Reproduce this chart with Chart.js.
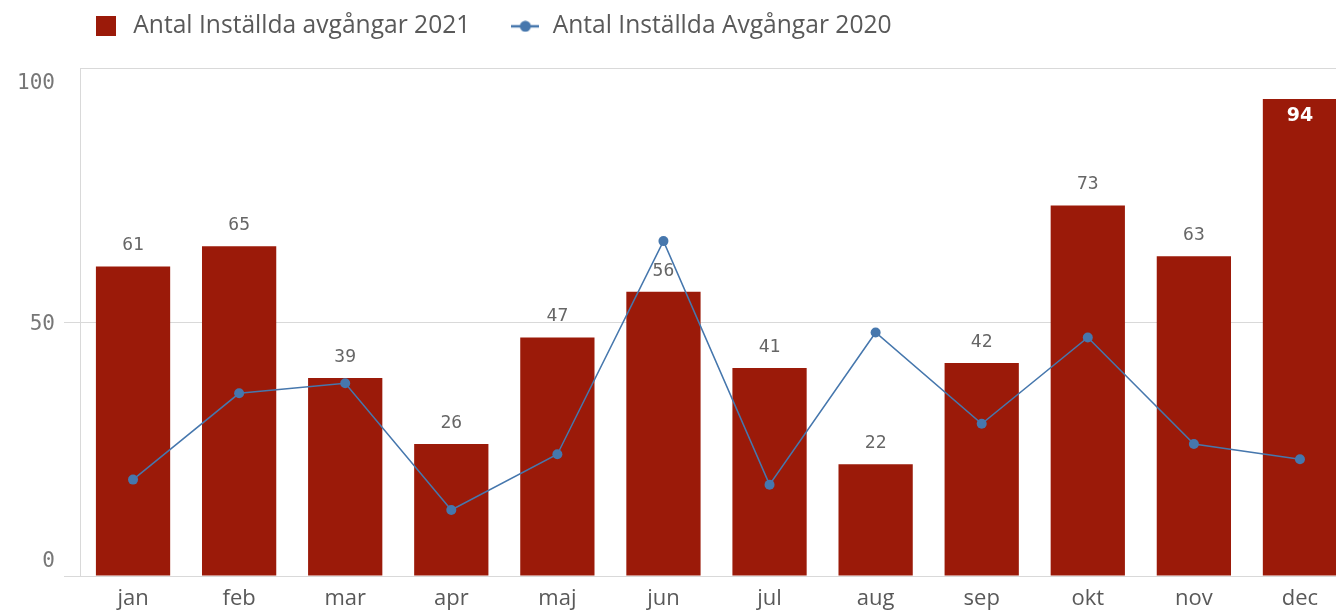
<!DOCTYPE html>
<html><head><meta charset="utf-8">
<script src="https://cdn.jsdelivr.net/npm/chart.js@4/dist/chart.umd.min.js"></script>
<style>
html,body{margin:0;padding:0;background:#fff;overflow:hidden}
#wrap{position:relative;width:1336px;height:610px;overflow:hidden;background:#fff}
#c{position:absolute;left:0;top:-26px}
</style></head><body>
<div id="wrap"><canvas id="c" width="1358" height="636"></canvas></div>
<script>
const months = ['jan','feb','mar','apr','maj','jun','jul','aug','sep','okt','nov','dec'];
const cancelled2021 = [61,65,39,26,47,56,41,22,42,73,63,94];
const cancelled2020 = [19,36,38,13,24,66,18,48,30,47,26,23];
const yTickValues = [0,50,100];
const label2021 = 'Antal Inställda avgångar 2021';
const label2020 = 'Antal Inställda Avgångar 2020';

const BAR = '#9b1a09';
const LINE = '#4677ad';

function makeBarMarker(){
  const c = document.createElement('canvas'); c.width = 20; c.height = 20;
  const x = c.getContext('2d'); x.fillStyle = BAR; x.fillRect(0,0,20,20); return c;
}
function makeLineMarker(){
  const c = document.createElement('canvas'); c.width = 28; c.height = 12;
  const x = c.getContext('2d'); x.strokeStyle = LINE; x.lineWidth = 2.5;
  x.beginPath(); x.moveTo(0,6); x.lineTo(28,6); x.stroke();
  x.fillStyle = LINE; x.beginPath(); x.arc(14,6,5.5,0,Math.PI*2); x.fill(); return c;
}
const markers = [makeBarMarker(), makeLineMarker()];

const legendSpacing = {
  id: 'legendSpacing',
  beforeLayout(chart){
    const lg = chart.legend;
    if (lg && !lg._patched){
      const fit = lg.fit;
      lg.fit = function(){ fit.call(this); this.height += 20; };
      lg._patched = true;
    }
  }
};

const yLabels = {
  id: 'yLabels',
  afterDraw(chart){
    const s = chart.scales.y, a = chart.chartArea, ctx = chart.ctx;
    ctx.save();
    ctx.font = '21px "DejaVu Sans Mono"';
    ctx.fillStyle = '#777';
    ctx.textAlign = 'right';
    ctx.textBaseline = 'middle';
    s.ticks.forEach(t => {
      let p = s.getPixelForValue(t.value);
      p = Math.min(Math.max(p, a.top + 13), a.bottom - 16);
      ctx.fillText(String(t.value), a.left - 25, p + 2);
    });
    ctx.restore();
  }
};

const barLabels = {
  id: 'barLabels',
  afterDatasetsDraw(chart){
    const meta = chart.getDatasetMeta(0), a = chart.chartArea, ctx = chart.ctx;
    const vals = chart.data.datasets[0].data;
    ctx.save();
    ctx.textAlign = 'center';
    ctx.textBaseline = 'middle';
    meta.data.forEach((bar, i) => {
      const above = bar.y - 21;
      if (above - 10 < a.top){
        ctx.font = 'bold 19px "DejaVu Sans"';
        ctx.fillStyle = '#ffffff';
        ctx.fillText(String(vals[i]), bar.x, bar.y + 17);
      } else {
        ctx.font = '18px "DejaVu Sans Mono"';
        ctx.fillStyle = '#666';
        ctx.fillText(String(vals[i]), bar.x, above);
      }
    });
    ctx.restore();
  }
};

new Chart(document.getElementById('c'), {
  data: {
    labels: months,
    datasets: [
      { type: 'bar', label: label2021, data: cancelled2021, backgroundColor: BAR,
        barPercentage: 0.7, categoryPercentage: 1.0, order: 1 },
      { type: 'line', label: label2020, data: cancelled2020, borderColor: LINE, backgroundColor: LINE,
        borderWidth: 1.5, pointRadius: 5, pointHoverRadius: 5, pointBackgroundColor: LINE,
        pointBorderWidth: 0, tension: 0, order: 0 }
    ]
  },
  options: {
    responsive: false,
    animation: false,
    devicePixelRatio: 1,
    layout: { padding: { left: 51, right: 0, top: 0, bottom: 0 } },
    plugins: {
      tooltip: { enabled: false },
      legend: {
        display: true, position: 'top', align: 'start', fullSize: true,
        labels: {
          usePointStyle: true, pointStyleWidth: 30, padding: 40,
          color: '#595959',
          font: { family: '"Open Sans"', size: 24.6 },
          generateLabels(chart){
            const items = Chart.defaults.plugins.legend.labels.generateLabels(chart);
            items.sort((p, q) => p.datasetIndex - q.datasetIndex);
            items.forEach(it => { it.pointStyle = markers[it.datasetIndex]; });
            return items;
          }
        }
      }
    },
    scales: {
      x: {
        grid: { display: false },
        border: { display: true, color: '#d9d9d9' },
        ticks: { color: '#595959', font: { family: '"Open Sans"', size: 22 }, padding: 2, maxRotation: 0 },
        afterFit(s){ s.height = 34; }
      },
      y: {
        min: 0, max: 100,
        afterBuildTicks(s){ s.ticks = yTickValues.map(v => ({ value: v })); },
        ticks: { display: false },
        grid: { color: '#d9d9d9', lineWidth: 1, tickLength: 16,
          tickColor: ctx => (ctx.tick && ctx.tick.value === 100) ? 'rgba(0,0,0,0)' : '#d9d9d9' },
        border: { display: true, color: '#d9d9d9' },
        afterFit(s){ s.width = 29; }
      }
    }
  },
  plugins: [legendSpacing, barLabels, yLabels]
});
</script>
</body></html>
